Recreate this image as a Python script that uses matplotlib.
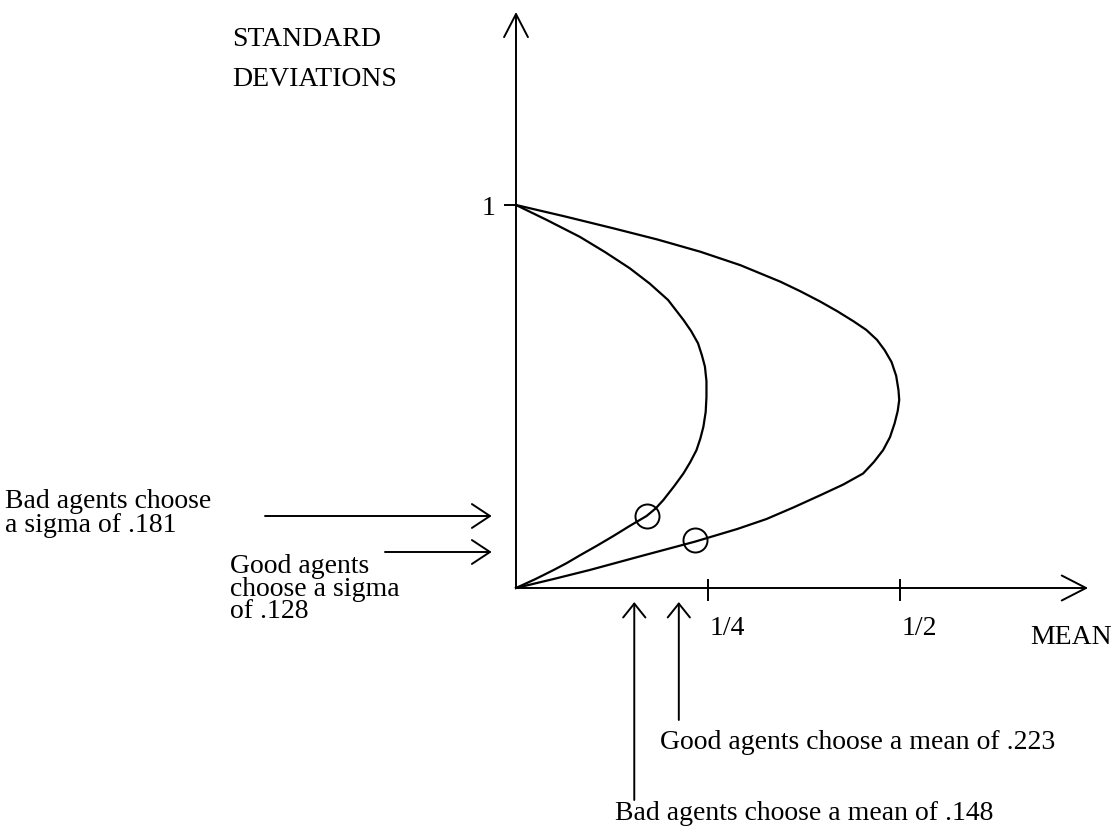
import matplotlib
matplotlib.use("Agg")
import matplotlib.pyplot as plt

# curves (mean, standard deviation)
inner_mean = [0.000, 0.040, 0.083, 0.116, 0.148, 0.174, 0.198, 0.208, 0.218,
              0.228, 0.237, 0.242, 0.246, 0.248, 0.248, 0.247, 0.244, 0.240,
              0.235, 0.227, 0.218, 0.206, 0.192, 0.182, 0.170, 0.148, 0.127,
              0.105, 0.083, 0.066, 0.049, 0.025, 0.000]
inner_sd = [1.000, 0.961, 0.917, 0.877, 0.835, 0.795, 0.752, 0.726, 0.700,
            0.671, 0.639, 0.608, 0.578, 0.540, 0.499, 0.460, 0.421, 0.390,
            0.360, 0.329, 0.299, 0.266, 0.230, 0.208, 0.188, 0.162, 0.136,
            0.110, 0.085, 0.065, 0.047, 0.023, 0.000]

outer_mean = [0.000, 0.064, 0.127, 0.184, 0.240, 0.292, 0.344, 0.370, 0.396,
              0.418, 0.439, 0.456, 0.470, 0.480, 0.489, 0.495, 0.498, 0.499,
              0.497, 0.493, 0.487, 0.478, 0.466, 0.452, 0.426, 0.396, 0.362,
              0.326, 0.288, 0.248, 0.233, 0.164, 0.096, 0.048, 0.000]
outer_sd = [1.000, 0.970, 0.939, 0.910, 0.878, 0.843, 0.800, 0.775, 0.748,
            0.723, 0.697, 0.674, 0.648, 0.621, 0.590, 0.554, 0.517, 0.491,
            0.462, 0.430, 0.394, 0.360, 0.329, 0.299, 0.270, 0.242, 0.211,
            0.180, 0.154, 0.130, 0.121, 0.084, 0.047, 0.023, 0.000]

agents = ["Bad", "Good"]
chosen_mean = [0.148, 0.223]
chosen_sigma = [0.181, 0.128]
circle_mean = [0.170, 0.233]
circle_sd = [0.188, 0.125]
mean_arrow_x = [0.154, 0.212]
sigma_arrow_y = [0.188, 0.094]

x_ticks = [0.25, 0.5]
x_tick_labels = ["1/4", "1/2"]

font = "Liberation Serif"
fs = 20


def arrow(ax, start, tip, hl, hw):
    ax.annotate("", xy=tip, xytext=start,
                arrowprops=dict(arrowstyle="->,head_length=%s,head_width=%s" % (hl, hw),
                                lw=1.4, color="black", shrinkA=0, shrinkB=0,
                                mutation_scale=10))


def txt(ax, x, y, s, ha="left", ls=1.2):
    # va="baseline" puts the last line's baseline at y
    ax.text(x, y, s, ha=ha, va="baseline", fontsize=fs, family=font,
            color="black", linespacing=ls)


def short(v):
    return ("%.3f" % v)[1:]


fig = plt.figure(figsize=(11.17, 8.35), dpi=100)
ax = fig.add_axes([0, 0, 1, 1])
ax.set_xlim(-0.671875, 0.782552)
ax.set_ylim(-0.644909, 1.535248)
ax.axis("off")

# axes with open arrow heads
arrow(ax, (0, 0), (0, 1.504), 1.66, 0.86)
arrow(ax, (0, 0), (0.745, 0), 1.75, 0.9)
ax.plot([-0.0143, 0], [1, 1], color="black", lw=1.4)
for t in x_ticks:
    ax.plot([t, t], [-0.031, 0.021], color="black", lw=1.4)

ax.plot(inner_mean, inner_sd, color="black", lw=1.6, solid_joinstyle="round")
ax.plot(outer_mean, outer_sd, color="black", lw=1.6, solid_joinstyle="round")
ax.plot(circle_mean, circle_sd, "o", ms=17.3, mfc="none", mec="black", mew=1.4)

# sigma arrows (from the left)
sigma_start = [-0.3268, -0.1706]
for y, x0 in zip(sigma_arrow_y, sigma_start):
    arrow(ax, (x0, y), (-0.0316, y), 1.3, 0.86)

# mean arrows (from below)
mean_start = [-0.5535, -0.3446]
for x, y0 in zip(mean_arrow_x, mean_start):
    arrow(ax, (x, y0), (x, -0.0366), 1.0, 0.8)

# labels
txt(ax, -0.370, 1.416, "STANDARD")
txt(ax, -0.370, 1.312, "DEVIATIONS")
txt(ax, -0.036, 0.974, "1", ha="center")
for t, lab in zip(x_ticks, x_tick_labels):
    txt(ax, t + 0.0026, -0.1227, lab)
txt(ax, 0.669, -0.1462, "MEAN")

txt(ax, -0.6654, 0.1462,
    "%s agents choose\na sigma of %s" % (agents[0], short(chosen_sigma[0])), ls=0.93)
txt(ax, -0.3724, -0.0783,
    "%s agents\nchoose a sigma\nof %s" % (agents[1], short(chosen_sigma[1])), ls=0.86)

txt(ax, 0.1875, -0.4204, "%s agents choose a mean of %s" % (agents[1], short(chosen_mean[1])))
txt(ax, 0.1289, -0.6057, "%s agents choose a mean of %s" % (agents[0], short(chosen_mean[0])))

fig.savefig("out.png", dpi=100)
